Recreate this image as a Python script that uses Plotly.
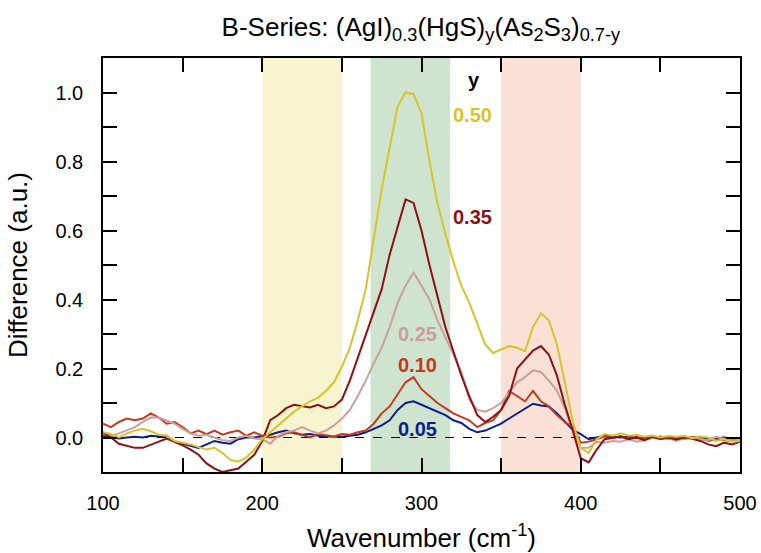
import numpy as np
import plotly.graph_objects as go

wavenumber = list(range(100, 505, 5))

y050 = [0.015, 0.01, 0.0, 0.012, 0.02, 0.025, 0.018, 0.008, 0.005, -0.01,
        -0.015, -0.02, -0.028, -0.035, -0.03, -0.045, -0.065, -0.07, -0.058, -0.035,
        -0.005, 0.015, 0.035, 0.055, 0.075, 0.09, 0.105, 0.115, 0.135, 0.16,
        0.205, 0.26, 0.34, 0.43, 0.58, 0.72, 0.84, 0.96, 1.0, 0.995,
        0.94, 0.8, 0.68, 0.59, 0.51, 0.44, 0.39, 0.33, 0.27, 0.245,
        0.255, 0.265, 0.26, 0.25, 0.32, 0.36, 0.34, 0.27, 0.16, 0.045,
        -0.03, -0.045, -0.005, 0.01, 0.005, 0.012, 0.005, 0.008, 0.002, 0.006,
        0.0, 0.004, 0.002, 0.005, -0.002, 0.003, 0.0, -0.01, -0.005, -0.012, -0.01]

y035 = [0.015, 0.0, -0.018, -0.025, -0.03, -0.03, -0.02, -0.012, -0.003, -0.012,
        -0.023, -0.035, -0.05, -0.075, -0.09, -0.1, -0.095, -0.09, -0.07, -0.05,
        -0.01, 0.05, 0.065, 0.085, 0.095, 0.09, 0.087, 0.095, 0.085, 0.09,
        0.11, 0.165, 0.23, 0.3, 0.36, 0.43, 0.53, 0.61, 0.69, 0.68,
        0.6, 0.5, 0.41, 0.32, 0.25, 0.18, 0.12, 0.065, 0.045, 0.06,
        0.08, 0.12, 0.2, 0.225, 0.252, 0.265, 0.24, 0.18, 0.095, 0.02,
        -0.06, -0.072, -0.035, -0.005, -0.002, 0.003, -0.005, 0.0, -0.008, 0.002,
        -0.004, 0.0, -0.006, 0.0, -0.004, -0.01, -0.02, -0.025, -0.015, -0.02, -0.012]

y025 = [0.01, 0.005, 0.012, 0.02, 0.03, 0.045, 0.058, 0.058, 0.05, 0.04,
        0.025, 0.012, 0.005, 0.008, 0.0, -0.008, -0.01, 0.0, 0.005, -0.003,
        -0.005, -0.018, 0.005, 0.015, 0.02, 0.03, 0.02, 0.012, 0.02, 0.035,
        0.055, 0.08, 0.12, 0.165, 0.215, 0.26, 0.32, 0.39, 0.44, 0.478,
        0.44, 0.4, 0.34, 0.29, 0.235, 0.19, 0.11, 0.08, 0.075, 0.085,
        0.1, 0.13, 0.16, 0.175, 0.195, 0.19, 0.165, 0.136, 0.085, 0.02,
        -0.03, -0.03, -0.012, -0.015, -0.01, -0.012, -0.005, -0.012, -0.008, 0.0,
        -0.005, -0.002, -0.01, -0.002, 0.0, -0.005, -0.008, 0.002, -0.005, -0.01, -0.005]

y010 = [0.04, 0.03, 0.045, 0.055, 0.05, 0.055, 0.07, 0.058, 0.04, 0.045,
        0.03, 0.012, 0.02, 0.01, 0.02, 0.008, 0.015, 0.02, 0.005, 0.015,
        0.005, 0.0, 0.002, 0.012, 0.015, 0.008, 0.0, 0.01, 0.006, 0.003,
        0.01, 0.008, 0.015, 0.02, 0.04, 0.07, 0.09, 0.125, 0.16, 0.175,
        0.14, 0.12, 0.1, 0.085, 0.07, 0.06, 0.05, 0.03, 0.042, 0.05,
        0.08, 0.135, 0.12, 0.105, 0.135, 0.105, 0.09, 0.065, 0.045, 0.03,
        -0.015, -0.012, -0.005, 0.003, -0.002, 0.004, -0.003, 0.002, -0.005, 0.0,
        0.003, -0.004, 0.0, -0.003, 0.002, -0.004, -0.01, -0.005, -0.008, -0.01, -0.005]

y005 = [0.005, 0.0, -0.003, 0.0, 0.002, 0.0, 0.005, 0.003, 0.005, -0.012,
        -0.018, -0.022, -0.03, -0.02, -0.01, -0.015, -0.018, -0.005, 0.0, 0.0,
        0.003, 0.008, 0.015, 0.02, 0.012, 0.008, 0.01, 0.005, 0.003, 0.003,
        0.002, 0.005, 0.008, 0.015, 0.025, 0.035, 0.05, 0.08, 0.1, 0.105,
        0.095, 0.085, 0.075, 0.065, 0.05, 0.042, 0.025, 0.015, 0.02, 0.03,
        0.04, 0.055, 0.07, 0.085, 0.098, 0.093, 0.09, 0.07, 0.045, 0.022,
        0.01, -0.005, 0.0, 0.005, 0.002, 0.0, 0.003, -0.002, 0.0, 0.002,
        -0.002, 0.0, 0.001, -0.003, 0.0, 0.002, -0.004, -0.002, 0.0, -0.003, -0.002]

series_labels = ["0.50", "0.35", "0.25", "0.10", "0.05"]
series_values = [y050, y035, y025, y010, y005]
series_colors = ["#d6c42a", "#8c1216", "#c9a09b", "#c23a1f", "#0c1e8e"]
# label anchor positions (x in cm^-1, y in a.u.)
label_x = [318.5, 318.5, 284, 284, 284]
label_y = [0.936, 0.638, 0.30, 0.209, 0.026]

x_tick_values = [100, 200, 300, 400, 500]
y_tick_values = [0.0, 0.2, 0.4, 0.6, 0.8, 1.0]

bands = [(200, 250, "#f8f4d0"), (268, 318, "#cfe4cf"), (350, 400, "#fbe0d6")]

FONT = "Liberation Sans, Arial"

fig = go.Figure()

for x0, x1, col in bands:
    fig.add_shape(type="rect", xref="x", yref="paper", x0=x0, x1=x1, y0=0, y1=1,
                  fillcolor=col, line_width=0, layer="below")

fig.add_trace(go.Scatter(x=[100, 500], y=[0, 0], mode="lines",
                         line=dict(color="black", width=1.2, dash="dash"),
                         showlegend=False, hoverinfo="skip"))

for idx in [4, 3, 2, 1, 0]:
    fig.add_trace(go.Scatter(x=wavenumber, y=series_values[idx], mode="lines",
                             line=dict(color=series_colors[idx], width=2),
                             name=series_labels[idx], showlegend=False))

for lab, col, lx, ly in zip(series_labels, series_colors, label_x, label_y):
    fig.add_annotation(x=lx, y=ly, text="<b>" + lab + "</b>", showarrow=False,
                       xanchor="left", yanchor="middle",
                       font=dict(family=FONT, size=20, color=col))
fig.add_annotation(x=328, y=1.035, text="<b>y</b>", showarrow=False,
                   xanchor="left", yanchor="middle",
                   font=dict(family=FONT, size=20, color="black"))

axis_common = dict(showline=True, linecolor="black", linewidth=1.5, mirror="ticks",
                   ticks="inside", ticklen=14, tickwidth=1.5, tickcolor="black",
                   showgrid=False, zeroline=False, automargin=False,
                   tickfont=dict(family=FONT, size=20, color="black"))

fig.update_layout(
    width=761, height=553,
    margin=dict(l=103, r=21, t=58, b=81),
    plot_bgcolor="white", paper_bgcolor="white",
    title=dict(text="B-Series: (AgI)<sub>0.3</sub>(HgS)<sub>y</sub>(As<sub>2</sub>S<sub>3</sub>)<sub>0.7-y</sub>",
               x=0.553, xanchor="center", y=0.952, yanchor="middle",
               font=dict(family=FONT, size=26, color="black")),
    xaxis=dict(range=[100, 500], tickvals=x_tick_values, ticklabelstandoff=12,
               minor=dict(dtick=50, tick0=100, ticks="inside", ticklen=14,
                          tickwidth=1.5, tickcolor="black", showgrid=False),
               title=dict(text="Wavenumber (cm<sup>-1</sup>)", standoff=16,
                          font=dict(family=FONT, size=26, color="black")),
               **axis_common),
    yaxis=dict(range=[-0.1, 1.1], tickvals=y_tick_values, tickformat=".1f",
               ticklabelstandoff=14,
               minor=dict(dtick=0.1, tick0=0, ticks="inside", ticklen=14,
                          tickwidth=1.5, tickcolor="black", showgrid=False),
               title=dict(text="Difference (a.u.)", standoff=20,
                          font=dict(family=FONT, size=26, color="black")),
               **axis_common),
)

fig.write_html(
    "out.html",
    config={"displayModeBar": False},
    post_script="document.documentElement.style.overflow='hidden';"
                "document.body.style.margin='0';document.body.style.overflow='hidden';",
)
